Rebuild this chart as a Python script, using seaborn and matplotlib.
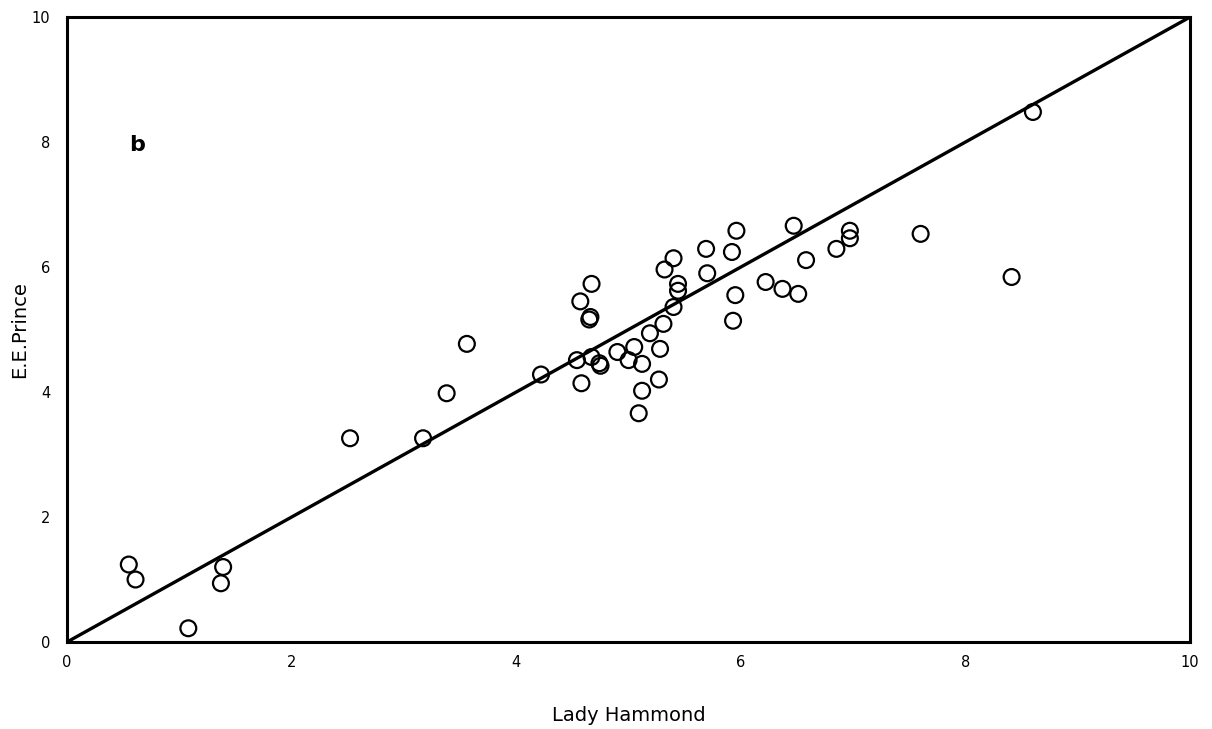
import matplotlib
matplotlib.use("Agg")
import matplotlib.pyplot as plt
import seaborn as sns
import pandas as pd

lady_hammond = [0.55, 0.61, 1.08, 1.39, 1.37, 2.52, 3.17, 3.38, 3.56, 4.22,
                4.67, 4.57, 4.66, 4.65, 4.54, 4.67, 4.75, 4.74, 4.58, 4.90,
                5.05, 5.00, 5.12, 5.19, 5.31, 5.28, 5.27, 5.12, 5.09, 5.40,
                5.32, 5.44, 5.44, 5.40, 5.69, 5.96, 5.92, 5.70, 5.95, 5.93,
                6.22, 6.37, 6.51, 6.47, 6.58, 6.85, 6.97, 6.97, 7.60, 8.41,
                8.60]
ee_prince = [1.24, 1.00, 0.22, 1.20, 0.94, 3.26, 3.26, 3.98, 4.77, 4.28,
             5.73, 5.45, 5.20, 5.16, 4.51, 4.56, 4.42, 4.46, 4.14, 4.64,
             4.72, 4.51, 4.45, 4.94, 5.09, 4.69, 4.20, 4.02, 3.66, 6.14,
             5.96, 5.73, 5.62, 5.36, 6.29, 6.58, 6.24, 5.90, 5.55, 5.14,
             5.76, 5.65, 5.57, 6.66, 6.11, 6.29, 6.58, 6.46, 6.53, 5.84,
             8.48]
line_x = [0, 10]
line_y = [0, 10]
ticks = [0, 2, 4, 6, 8, 10]

sns.set_style("white")
plt.rcParams['font.family'] = ['DejaVu Sans']
plt.rcParams['text.color'] = 'black'
plt.rcParams['axes.labelcolor'] = 'black'

fig = plt.figure(figsize=(12.12, 7.29), dpi=100)
ax = fig.add_axes([0.0553, 0.1193, 0.9267, 0.8574])

df = pd.DataFrame({"x": lady_hammond, "y": ee_prince})
sns.lineplot(x=line_x, y=line_y, ax=ax, color="black", linewidth=2.4)
sns.scatterplot(data=df, x="x", y="y", ax=ax, s=130, facecolor="none",
                edgecolor="black", linewidth=1.6, zorder=3)

ax.set_xlim(0, 10)
ax.set_ylim(0, 10)
ax.set_xticks(ticks)
ax.set_yticks(ticks)
ax.set_xticklabels([str(t) for t in ticks], fontsize=10.5)
ax.set_yticklabels([str(t) for t in ticks], fontsize=10.5)
ax.tick_params(direction="in", length=6, width=1.2, pad=9, colors="black")
ax.tick_params(axis="y", pad=12)
for s in ax.spines.values():
    s.set_visible(True)
    s.set_color("black")
    s.set_linewidth(2.2)

ax.set_xlabel("Lady Hammond", fontsize=14, labelpad=26, color="black")
ax.set_ylabel("E.E.Prince", fontsize=14, labelpad=2, color="black")
ax.text(0.62, 7.95, "b", fontsize=16, fontweight="bold", ha="center", va="center",
        color="black")

fig.savefig("out.png", dpi=100)
